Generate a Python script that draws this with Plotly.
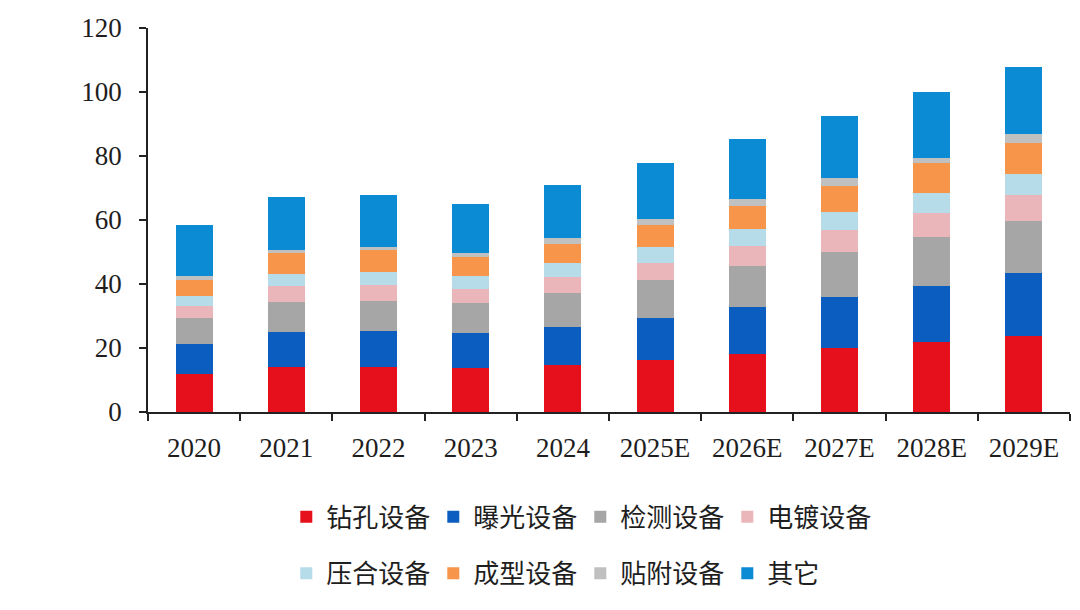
import plotly.graph_objects as go

years = ["2020", "2021", "2022", "2023", "2024", "2025E", "2026E", "2027E", "2028E", "2029E"]

drilling = [12.0, 14.0, 14.0, 13.8, 14.7, 16.3, 18.1, 20.0, 21.9, 23.8]
exposure = [9.3, 11.0, 11.3, 11.0, 11.9, 13.1, 14.7, 15.9, 17.5, 19.6]
inspection = [8.1, 9.4, 9.4, 9.3, 10.6, 11.9, 12.8, 14.1, 15.3, 16.3]
plating = [3.7, 5.0, 5.0, 4.4, 5.0, 5.3, 6.3, 6.9, 7.5, 8.1]
lamination = [3.1, 3.7, 4.0, 4.1, 4.4, 5.0, 5.3, 5.6, 6.2, 6.6]
forming = [5.0, 6.6, 6.9, 5.9, 5.9, 6.8, 7.2, 8.1, 9.4, 9.7]
mounting = [1.3, 0.9, 1.0, 1.3, 1.9, 1.9, 2.2, 2.5, 1.6, 2.8]
others = [15.9, 16.6, 16.2, 15.3, 16.5, 17.5, 18.7, 19.4, 20.6, 20.9]

names = ["钻孔设备", "曝光设备", "检测设备", "电镀设备", "压合设备", "成型设备", "贴附设备", "其它"]
series = [drilling, exposure, inspection, plating, lamination, forming, mounting, others]
colors = ["#E5101B", "#0B5EC0", "#A6A6A6", "#EBB6B9", "#B6DCEA", "#F7954A", "#C0C0C0", "#0C8BD5"]

fig = go.Figure()
for i, (n, s, c) in enumerate(zip(names, series, colors)):
    fig.add_trace(go.Bar(
        x=years, y=s, name=n, marker=dict(color=c, line=dict(width=0)),
        legend="legend" if i < 4 else "legend2",
    ))

num_font = dict(family="Liberation Serif, Times New Roman, serif", size=27, color="#1e1e1e")
leg_font = dict(family="Noto Sans CJK SC, sans-serif", size=26, color="#1e1e1e")

fig.update_layout(
    barmode="stack",
    bargap=0.6,
    width=1080, height=610,
    margin=dict(l=148, r=10, t=28, b=198),
    plot_bgcolor="white", paper_bgcolor="white",
    font=num_font,
    xaxis=dict(
        showline=True, linecolor="#222222", linewidth=1.5,
        ticks="outside", ticklen=7, tickcolor="#222222", tickwidth=1.5,
        tickson="boundaries", showgrid=False, tickfont=num_font,
        ticklabelstandoff=11,
    ),
    yaxis=dict(
        range=[0, 120], dtick=20, showline=True, linecolor="#222222", linewidth=1.5,
        ticks="outside", ticklen=7, tickcolor="#222222", tickwidth=1.5,
        showgrid=False, zeroline=False, tickfont=num_font,
        ticklabelstandoff=12,
    ),
    legend=dict(
        orientation="h", x=0.15, y=-0.273, xanchor="left", yanchor="middle",
        font=leg_font, entrywidth=102, entrywidthmode="pixels",
        itemclick=False, traceorder="normal",
    ),
    legend2=dict(
        orientation="h", x=0.15, y=-0.42, xanchor="left", yanchor="middle",
        font=leg_font, entrywidth=102, entrywidthmode="pixels",
        itemclick=False, traceorder="normal",
    ),
)

fig.write_html("out.html")
